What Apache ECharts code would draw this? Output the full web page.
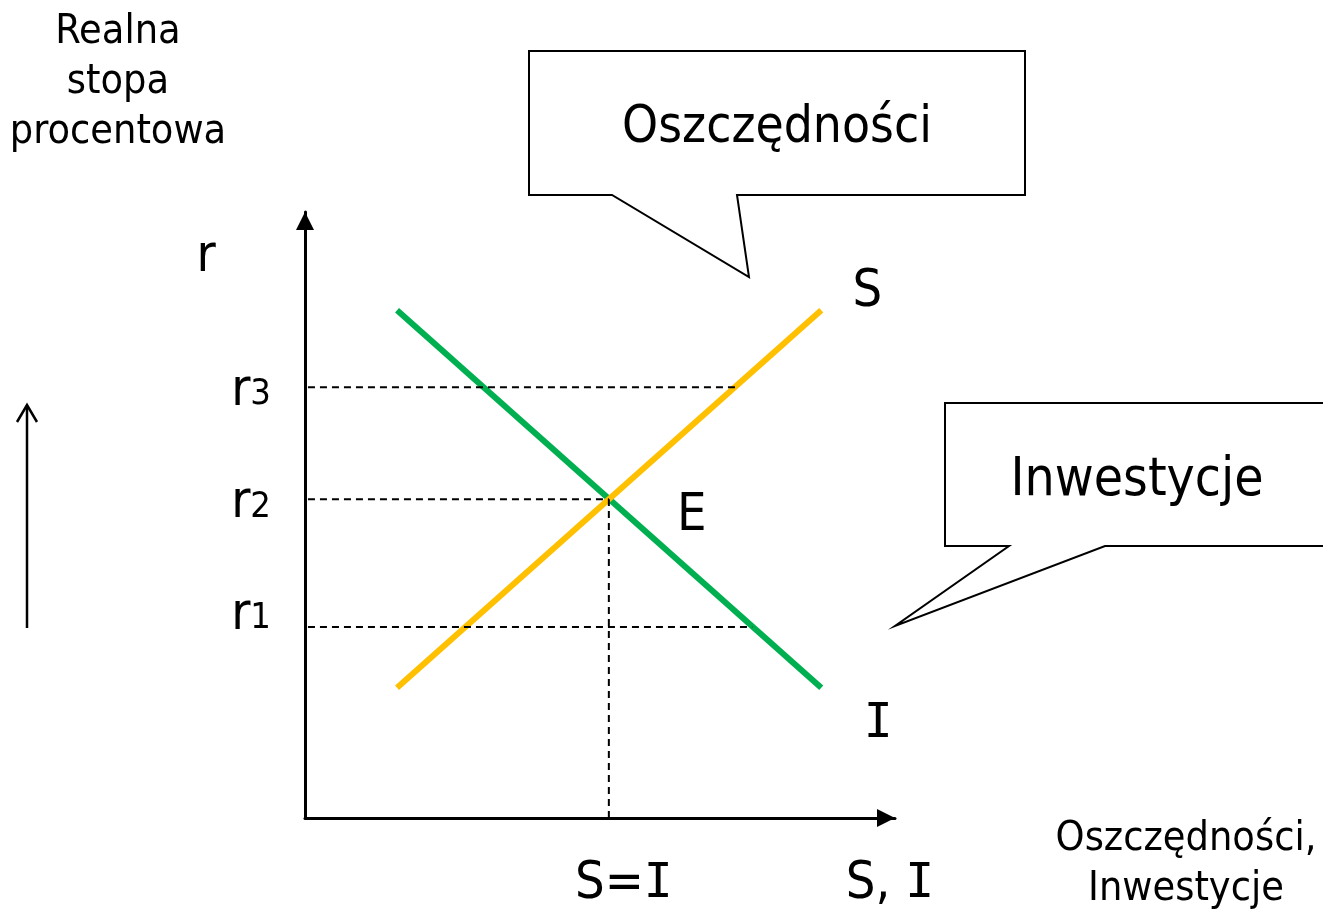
<!DOCTYPE html>
<html>
<head>
<meta charset="utf-8">
<script src="https://cdn.jsdelivr.net/npm/echarts@6.0.0/dist/echarts.min.js"></script>
<style>
  html, body { margin: 0; padding: 0; background: #fff; }
  #main { width: 1323px; height: 912px; }
</style>
</head>
<body>
<div id="main"></div>
<script>
// wartosci (umowne jednostki 0-100)
const supplyLine = [[15.6, 21.5], [87.5, 83.8]]     // S - oszczednosci
const investLine = [[15.6, 83.8], [87.5, 21.5]]     // I - inwestycje
const equilibrium = [51.5, 52.6]                     // punkt E
const rLevels = [31.5, 52.6, 71.1]                   // r1, r2, r3
const rEnds = [75.8, 51.5, 73.2]                     // gdzie konczy sie przerywana linia
const rNames = ['1', '2', '3']

const FONT = "'DejaVu Sans Condensed', 'DejaVu Sans', sans-serif"
const SERIF_I = "'DejaVu Sans Mono', monospace"   // "I" z szeryfami jak w Tahomie

let chart = echarts.init(document.getElementById('main'), null, { renderer: 'canvas' })

// wspolne style tekstu (rich)
let rich = {
  n: { fontFamily: FONT, fontSize: 52, color: '#000', verticalAlign: 'bottom', lineHeight: 60 },
  i: { fontFamily: SERIF_I, fontSize: 48, color: '#000', verticalAlign: 'bottom', lineHeight: 60, padding: [0, 0, 1, 0] },
  s: { fontFamily: FONT, fontSize: 36, color: '#000', verticalAlign: 'bottom', lineHeight: 60, padding: [0, 0, 4, 0] }
}

// przerywane linie poziome r1..r3
let dashSeries = rLevels.map((r, i) => ({
  type: 'line',
  data: [
    {
      value: [0.5, r],
      label: {
        show: true,
        position: 'left',
        distance: 37,
        offset: [0, i === 0 ? -16 : 0],
        formatter: '{n|r}{s|' + rNames[i] + '}',
        rich: rich
      }
    },
    [rEnds[i], r]
  ],
  symbol: 'circle',
  symbolSize: 0,
  silent: true,
  lineStyle: { color: '#000', width: 2, type: [7, 5] },
  z: 5
}))

let txt = (s, off) => ({
  show: true, formatter: s, position: off, align: 'center', verticalAlign: 'middle', rich: rich
})

let axisStyle = {
  show: true,
  lineStyle: { color: '#000', width: 3 },
  symbol: ['none', 'triangle'],
  symbolSize: [18, 18],
  symbolOffset: [0, -9]
}

let option = {
  backgroundColor: '#fff',
  animation: false,
  grid: { left: 305, right: 428, top: 212, bottom: 94 },
  xAxis: {
    type: 'value', min: 0, max: 100, interval: 10,
    axisLine: axisStyle,
    axisTick: { show: false }, axisLabel: { show: false }, splitLine: { show: false }
  },
  yAxis: {
    type: 'value', min: 0, max: 100, interval: 10,
    axisLine: axisStyle,
    axisTick: { show: false }, axisLabel: { show: false }, splitLine: { show: false }
  },
  series: [
    {
      name: 'I',
      type: 'line',
      data: [investLine[0], { value: investLine[1], label: txt('{i|I}', [57, 32]) }],
      symbol: 'circle',
      symbolSize: 0,
      lineStyle: { color: '#00B050', width: 6, cap: 'butt' },
      z: 3
    },
    {
      name: 'S',
      type: 'line',
      data: [supplyLine[0], { value: supplyLine[1], label: txt('{n|S}', [46, -22]) }],
      symbol: 'circle',
      symbolSize: 0,
      lineStyle: { color: '#FFC000', width: 6, cap: 'butt' },
      z: 4
    },
    ...dashSeries,
    {
      // pionowa linia S=I
      type: 'line',
      data: [{ value: [equilibrium[0], 0], label: txt('{n|S=}{i|I}', [15, 62]) }, equilibrium],
      symbol: 'circle',
      symbolSize: 0,
      lineStyle: { color: '#000', width: 2, type: [7, 5] },
      z: 5
    },
    {
      // punkt E
      type: 'scatter',
      data: [equilibrium],
      symbolSize: 0,
      itemStyle: { opacity: 1 },
      label: txt('{n|E}', [83, 13]),
      z: 6
    }
  ],
  graphic: [
    {
      type: 'text', x: 118, y: 7,
      style: { text: 'Realna\nstopa\nprocentowa', font: '41px ' + FONT, lineHeight: 50, align: 'center', verticalAlign: 'top', fill: '#000' }
    },
    {
      type: 'text', x: 206, y: 257,
      style: { text: 'r', font: '52px ' + FONT, align: 'center', verticalAlign: 'middle', fill: '#000' }
    },
    {
      type: 'text', x: 890, y: 880,
      style: { text: '{n|S, }{i|I}', rich: rich, align: 'center', verticalAlign: 'middle' }
    },
    {
      type: 'text', x: 1186, y: 814,
      style: { text: 'Oszczędności,\nInwestycje', font: '41px ' + FONT, lineHeight: 50, align: 'center', verticalAlign: 'top', fill: '#000' }
    },
    // strzalka po lewej
    {
      type: 'polyline',
      shape: { points: [[27, 628], [27, 406]] },
      style: { stroke: '#000', lineWidth: 2.5, fill: null }
    },
    {
      type: 'polyline',
      shape: { points: [[17, 422], [27, 405], [37, 422]] },
      style: { stroke: '#000', lineWidth: 2.5, fill: null }
    },
    // dymek Oszczednosci
    {
      type: 'polygon',
      shape: { points: [[529, 51], [1025, 51], [1025, 195], [737, 195], [749, 277], [612, 195], [529, 195]] },
      style: { fill: '#fff', stroke: '#000', lineWidth: 2 }
    },
    {
      type: 'text', x: 777, y: 129,
      style: { text: 'Oszczędności', font: '51px ' + FONT, align: 'center', verticalAlign: 'middle', fill: '#000' }
    },
    // dymek Inwestycje
    {
      type: 'polygon',
      shape: { points: [[945, 403], [1330, 403], [1330, 546], [1105, 546], [895, 626], [1009, 546], [945, 546]] },
      style: { fill: '#fff', stroke: '#000', lineWidth: 2 }
    },
    {
      type: 'text', x: 1137, y: 481,
      style: { text: 'Inwestycje', font: '53px ' + FONT, align: 'center', verticalAlign: 'middle', fill: '#000' }
    }
  ]
}

chart.setOption(option)
</script>
</body>
</html>
